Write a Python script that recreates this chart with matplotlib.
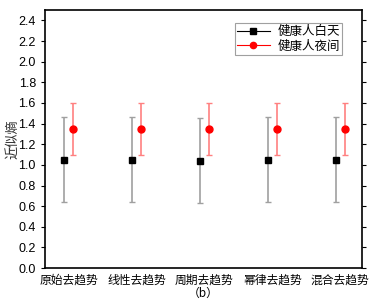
import numpy as np
import matplotlib.pyplot as plt
from matplotlib.lines import Line2D

plt.rcParams['font.family'] = ['Liberation Sans', 'Noto Sans CJK SC']

methods = ["原始去趋势", "线性去趋势", "周期去趋势", "幂律去趋势", "混合去趋势"]
day_mean = [1.05, 1.05, 1.04, 1.05, 1.05]
day_err = [0.41, 0.41, 0.41, 0.41, 0.41]
night_mean = [1.35, 1.35, 1.35, 1.35, 1.35]
night_err = [0.25, 0.25, 0.25, 0.25, 0.25]

x = np.arange(len(methods))
off = 0.07

fig = plt.figure(figsize=(3.71, 3.05), dpi=100)
ax = fig.add_axes([0.121, 0.121, 0.855, 0.846])

ax.errorbar(x - off, day_mean, yerr=day_err, fmt="s", color="black", ms=5,
            ecolor="#a0a0a0", elinewidth=1.2, capsize=2.5, capthick=1)
ax.errorbar(x + off, night_mean, yerr=night_err, fmt="o", color="red", ms=5,
            ecolor="#ff8080", elinewidth=1.2, capsize=2.5, capthick=1)

ax.set_xlim(-0.35, 4.32)
ax.set_ylim(0, 2.5)
yt = np.arange(0, 2.41, 0.2)
ax.set_yticks(yt)
ax.set_yticklabels([f"{v:.1f}" for v in yt], fontsize=9)
ax.set_xticks(x)
ax.set_xticklabels(methods, fontsize=8.5, family=['Noto Sans CJK SC'])
ax.tick_params(axis="x", length=0, pad=4)
ax.tick_params(axis="y", direction="out", length=3, right=True, labelright=False)
ax.set_ylabel("近似熵", fontsize=9.5, family=['Noto Sans CJK SC'], color="#333333")
ax.yaxis.set_label_coords(-0.082, 0.5)
ax.set_xlabel("（b）", fontsize=8.5, family=['Noto Sans CJK SC'], labelpad=0)

for s in ax.spines.values():
    s.set_linewidth(1.2)

handles = [Line2D([], [], color="black", marker="s", ms=4, lw=0.8),
           Line2D([], [], color="red", marker="o", ms=4.5, lw=0.8)]
leg = ax.legend(handles, ["健康人白天", "健康人夜间"], loc="upper right",
                bbox_to_anchor=(0.937, 0.95),
                prop={'family': 'Noto Sans CJK SC', 'size': 9},
                fancybox=False, edgecolor="#888888", handlelength=2.6,
                handletextpad=0.6, borderpad=0.2, labelspacing=0.1,
                borderaxespad=0)
leg.get_frame().set_linewidth(0.8)

fig.savefig("out.png", dpi=100)
